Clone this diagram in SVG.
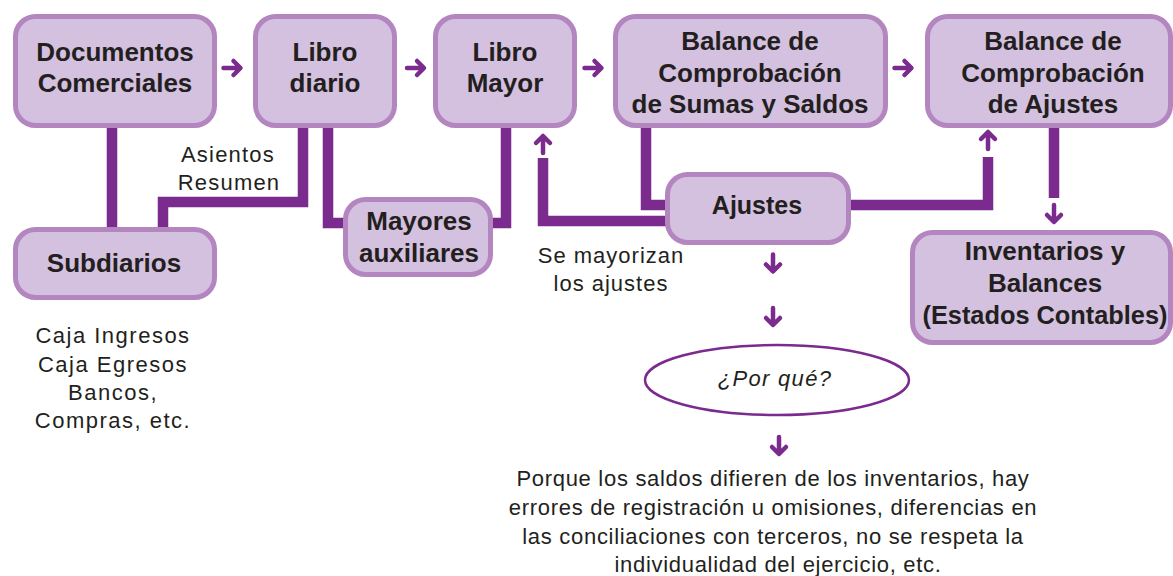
<svg xmlns="http://www.w3.org/2000/svg" width="1173" height="576" viewBox="0 0 1173 576">
<style>
.box{fill:#d4c0df;stroke:#b386c0;stroke-width:5}
.bt{font-family:"Liberation Sans",Arial,sans-serif;font-weight:bold;font-size:26px;fill:#231f20;text-anchor:middle}
.nt{font-family:"Liberation Sans",Arial,sans-serif;font-size:22px;fill:#231f20;text-anchor:middle}
.bar{fill:none;stroke:#7b2a8d;stroke-width:10.5;stroke-linejoin:miter;stroke-linecap:butt}
.arr{fill:none;stroke:#7b2a8d;stroke-width:4.5;stroke-linecap:round;stroke-linejoin:round}
</style>
<defs>
<path id="arrow" class="arr" d="M-9,0 H7 M1,-7 L8,0 L1,7"/>
</defs>
<rect width="1173" height="576" fill="#ffffff"/>
<g id="connectors">
<path class="bar" d="M112,126 V230"/>
<path class="bar" d="M303,126 V202 H163 V230"/>
<path class="bar" d="M328,126 V223 H347"/>
<path class="bar" d="M506,126 V223 H489"/>
<path class="bar" d="M543,158 V221 H669"/>
<path class="bar" d="M646,126 V205 H669"/>
<path class="bar" d="M847,205 H988 V157"/>
<path class="bar" d="M1054,126 V198"/>
<use href="#arrow" transform="translate(232.5,68)"/>
<use href="#arrow" transform="translate(416,68)"/>
<use href="#arrow" transform="translate(593.5,68)"/>
<use href="#arrow" transform="translate(903.5,68)"/>
<use href="#arrow" transform="translate(543,144) rotate(-90)"/>
<use href="#arrow" transform="translate(988,140) rotate(-90)"/>
<use href="#arrow" transform="translate(1054,214) rotate(90)"/>
<use href="#arrow" transform="translate(773,263.5) rotate(90)"/>
<use href="#arrow" transform="translate(773,317) rotate(90)"/>
<use href="#arrow" transform="translate(779,446) rotate(90)"/>
</g>
<g id="documentos">
<rect class="box" x="15.5" y="16.5" width="199" height="109" rx="20"/>
<text class="bt" x="115" y="61">Documentos</text>
<text class="bt" x="115" y="92">Comerciales</text>
</g>
<g id="libro-diario">
<rect class="box" x="255.5" y="16.5" width="139" height="109" rx="20"/>
<text class="bt" x="325" y="61">Libro</text>
<text class="bt" x="325" y="92">diario</text>
</g>
<g id="libro-mayor">
<rect class="box" x="435.5" y="16.5" width="139" height="109" rx="20"/>
<text class="bt" x="505" y="61">Libro</text>
<text class="bt" x="505" y="92">Mayor</text>
</g>
<g id="balance-sumas">
<rect class="box" x="615.5" y="16.5" width="270" height="109" rx="20"/>
<text class="bt" x="750" y="50">Balance  de</text>
<text class="bt" x="750" y="82">Comprobación</text>
<text class="bt" x="750" y="113">de Sumas y Saldos</text>
</g>
<g id="balance-ajustes">
<rect class="box" x="927.5" y="16.5" width="243" height="109" rx="20"/>
<text class="bt" x="1053" y="50">Balance  de</text>
<text class="bt" x="1053" y="82">Comprobación</text>
<text class="bt" x="1053" y="113">de Ajustes</text>
</g>
<g id="subdiarios">
<rect class="box" x="15.5" y="229.5" width="199" height="68" rx="20"/>
<text class="bt" x="114" y="272">Subdiarios</text>
</g>
<g id="mayores-auxiliares">
<rect class="box" x="345.5" y="199.5" width="145" height="75" rx="20"/>
<text class="bt" x="419" y="230">Mayores</text>
<text class="bt" x="419" y="262">auxiliares</text>
</g>
<g id="ajustes">
<rect class="box" x="667.5" y="174.5" width="181" height="68" rx="20"/>
<text class="bt" x="757" y="214" style="font-size:25px">Ajustes</text>
</g>
<g id="inventarios">
<rect class="box" x="912.5" y="232.5" width="258" height="110" rx="20"/>
<text class="bt" x="1045" y="260">Inventarios y</text>
<text class="bt" x="1045" y="292">Balances</text>
<text class="bt" x="1045" y="324" textLength="245" lengthAdjust="spacingAndGlyphs">(Estados Contables)</text>
</g>
<g id="por-que">
<ellipse cx="777" cy="380" rx="132" ry="35" fill="#ffffff" stroke="#7b2a8d" stroke-width="2.5"/>
<text class="nt" x="775" y="386" style="font-style:italic;letter-spacing:1.3px">¿Por qué?</text>
</g>
<g id="labels">
<text class="nt" x="228" y="162" style="letter-spacing:1.2px">Asientos</text>
<text class="nt" x="229" y="190" style="letter-spacing:1.2px">Resumen</text>
<text class="nt" x="611" y="263" style="letter-spacing:1px">Se mayorizan</text>
<text class="nt" x="611" y="291" style="letter-spacing:1px">los  ajustes</text>
<text class="nt" x="113" y="343" style="letter-spacing:1.5px">Caja Ingresos</text>
<text class="nt" x="113" y="372" style="letter-spacing:1.5px">Caja Egresos</text>
<text class="nt" x="113" y="400" style="letter-spacing:1.5px">Bancos,</text>
<text class="nt" x="113" y="428" style="letter-spacing:1.5px">Compras, etc.</text>
<text class="nt" x="773" y="486" style="letter-spacing:0.7px">Porque los saldos difieren de los inventarios, hay</text>
<text class="nt" x="773" y="515" style="letter-spacing:0.7px">errores de registración u omisiones, diferencias en</text>
<text class="nt" x="773" y="544" style="letter-spacing:0.7px">las conciliaciones con terceros, no se respeta la</text>
<text class="nt" x="778" y="572" style="letter-spacing:0.7px">individualidad del ejercicio, etc.</text>
</g>
</svg>
